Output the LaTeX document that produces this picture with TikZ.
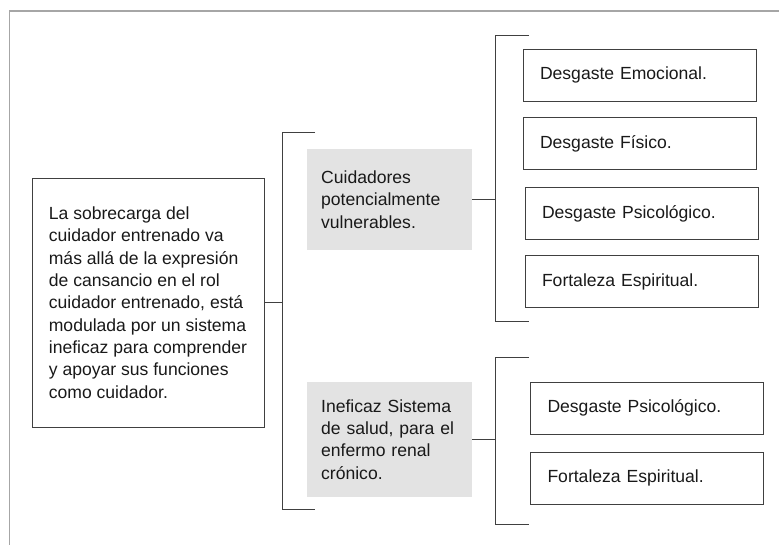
\documentclass[tikz,border=0pt]{standalone}
\usepackage{fontspec}
\setmainfont{Liberation Sans}
\usetikzlibrary{positioning}

\begin{document}
\begin{tikzpicture}[
txt/.style={font=\fontsize{15}{19.1}\selectfont,text=black!90,align=left},
mainbox/.style={txt,draw=black!75,line width=0.8pt,minimum width=6.96cm,minimum height=7.47cm},
graybox/.style={txt,fill=black!11,text width=4.1cm,inner xsep=0.425cm},
itembox/.style={txt,draw=black!75,line width=0.8pt,text width=5.97cm,inner xsep=0.51cm,minimum height=1.56cm},
brace/.style={draw=black!75,line width=0.8pt},
frame/.style={draw=black!35,line width=0.9pt}]
\useasboundingbox (0,0) rectangle (23.37,16.35);
\draw[frame] (0.285,0) -- (0.285,16.02) -- (23.37,16.02);

\node[mainbox] (carga) at (4.44,7.275) {La sobrecarga del\\cuidador entrenado va\\más allá de la expresión\\de cansancio en el rol\\cuidador entrenado, está\\modulada por un sistema\\ineficaz para comprender\\y apoyar sus funciones\\como cuidador.};
\node[graybox,minimum height=3.03cm] (cuid) at (11.685,10.365) {Cuidadores\\potencialmente\\vulnerables.};
\node[graybox,minimum height=3.45cm] (sist) at (11.685,3.165) {Ineficaz Sistema\\de salud, para el\\enfermo renal\\crónico.};

\node[itembox] (emoc) at (19.185,14.1) {Desgaste Emocional.};
\node[itembox] (fisi) at (19.185,12.045) {Desgaste Físico.};
\node[itembox] (psic) at (19.245,9.945) {Desgaste Psicológico.};
\node[itembox] (espi) at (19.245,7.905) {Fortaleza Espiritual.};
\node[itembox] (psicb) at (19.41,4.11) {Desgaste Psicológico.};
\node[itembox] (espib) at (19.41,2.01) {Fortaleza Espiritual.};

\coordinate (b1t) at (8.46,12.39);
\coordinate (b1b) at (8.46,1.08);
\coordinate (b2t) at (14.85,15.3);
\coordinate (b2b) at (14.85,6.72);
\coordinate (b3t) at (14.85,5.64);
\coordinate (b3b) at (14.85,0.63);

\draw[brace] ([xshift=0.99cm]b1t) -- (b1t) -- (b1b) -- ([xshift=0.99cm]b1b);
\draw[brace] ([xshift=1.02cm]b2t) -- (b2t) -- (b2b) -- ([xshift=1.02cm]b2b);
\draw[brace] ([xshift=1.02cm]b3t) -- (b3t) -- (b3b) -- ([xshift=1.02cm]b3b);

\draw[brace] (carga.east) -- (carga.east -| b1t);
\draw[brace] (cuid.east) -- (cuid.east -| b2t);
\draw[brace] (sist.east) -- (sist.east -| b3t);

\end{tikzpicture}
\end{document}
